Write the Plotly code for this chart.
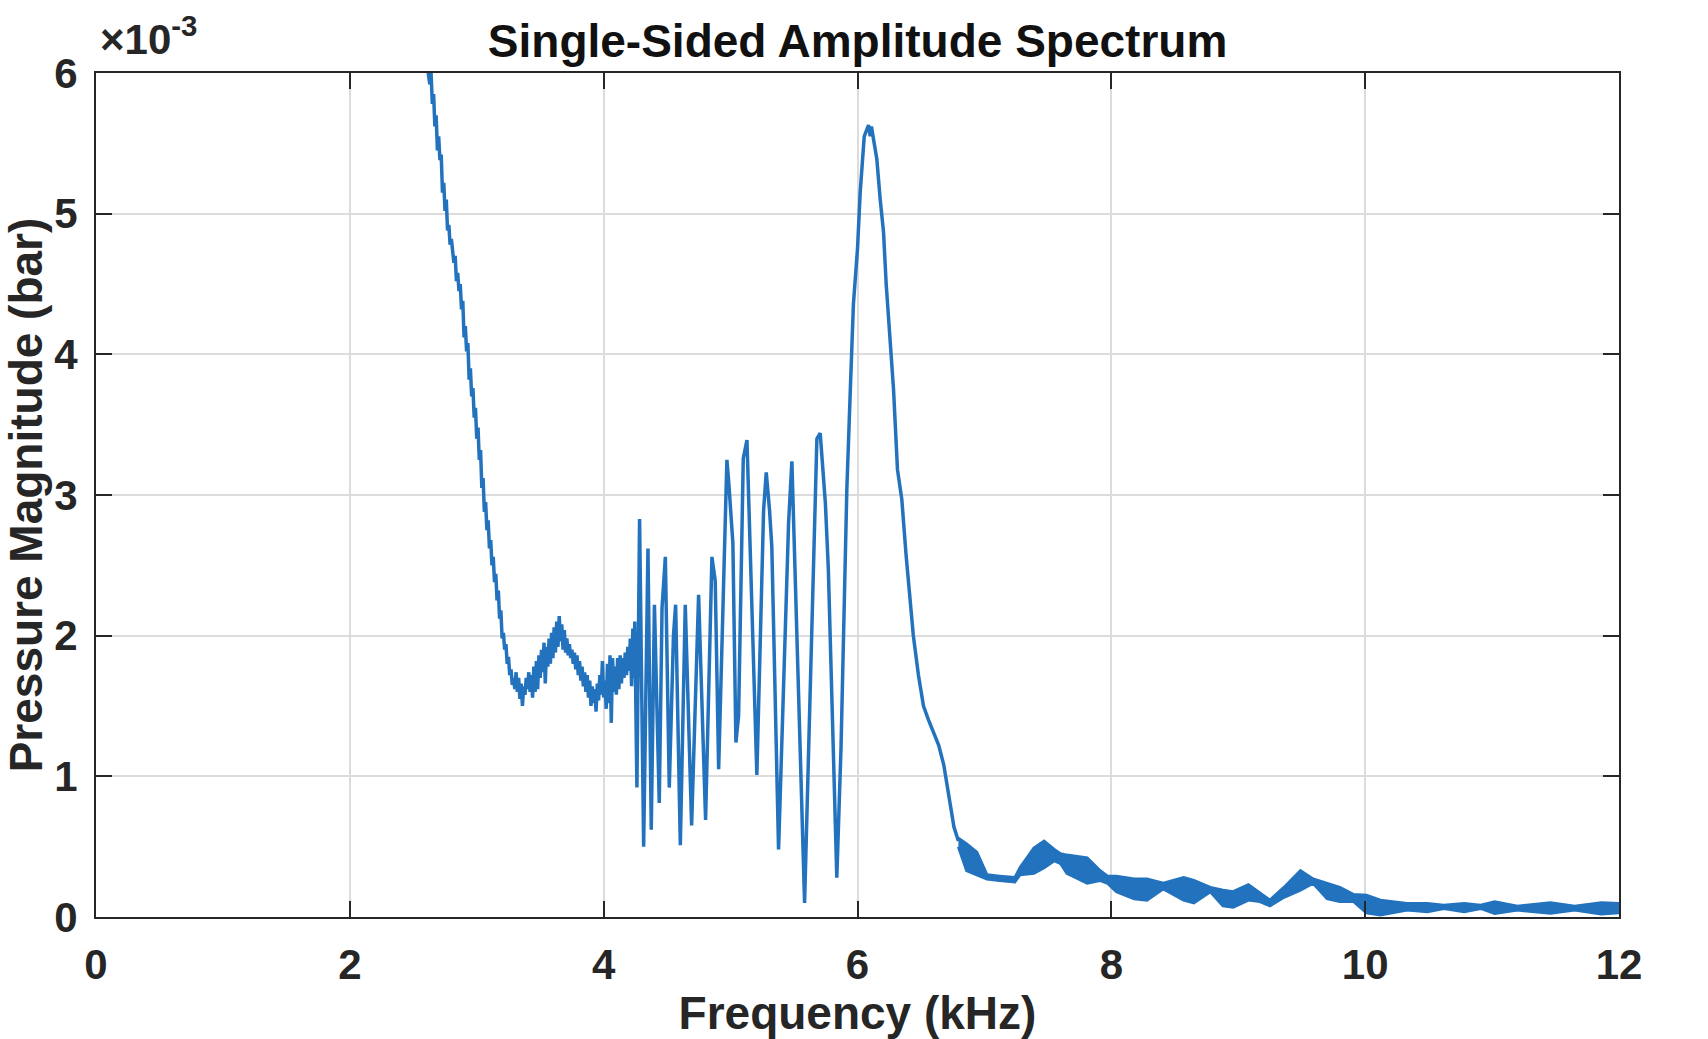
import plotly.graph_objects as go

# ---------------- data (pressure values in units of 1e-3 bar) ----------------
# Low-frequency roll-off and noisy plateau (kHz)
freq_low = [2.55, 2.62, 2.63, 2.64, 2.65, 2.66, 2.67, 2.68, 2.69, 2.70, 2.71, 2.72, 2.73, 2.74,
            2.75, 2.76, 2.77, 2.78, 2.79, 2.80, 2.82, 2.83, 2.84, 2.85, 2.86, 2.87, 2.88, 2.89,
            2.90, 2.91, 2.92, 2.93, 2.94, 2.95, 2.96, 2.97, 2.98, 2.99, 3.00, 3.01, 3.02, 3.03,
            3.04, 3.05, 3.06, 3.07, 3.08, 3.09, 3.10, 3.11, 3.12, 3.13, 3.14, 3.15, 3.16, 3.17,
            3.18, 3.19, 3.20, 3.21, 3.22, 3.23, 3.24, 3.25, 3.26, 3.27, 3.28, 3.29, 3.30, 3.31,
            3.32, 3.33, 3.34, 3.35, 3.36, 3.37, 3.38, 3.39, 3.40, 3.41, 3.42, 3.43, 3.44, 3.45,
            3.46, 3.47, 3.48, 3.49, 3.50, 3.51, 3.52, 3.53, 3.54, 3.55, 3.56, 3.57, 3.58, 3.59,
            3.60, 3.61, 3.62, 3.63, 3.64, 3.65, 3.66, 3.67, 3.68, 3.69, 3.70, 3.71, 3.72, 3.73,
            3.74, 3.75, 3.76, 3.77, 3.78, 3.79, 3.80, 3.81, 3.82, 3.83, 3.84, 3.85, 3.86, 3.87,
            3.88, 3.89, 3.90, 3.91, 3.92, 3.93, 3.94, 3.95, 3.96, 3.97, 3.98, 3.99, 4.00, 4.01,
            4.02, 4.03, 4.04, 4.05, 4.06, 4.07, 4.08, 4.09, 4.10, 4.11, 4.12, 4.13, 4.14, 4.15,
            4.16, 4.17, 4.18, 4.19, 4.20, 4.21, 4.22, 4.23, 4.24, 4.245]
mag_low = [6.45, 6.02, 5.92, 6.00, 5.78, 5.85, 5.62, 5.70, 5.45, 5.55, 5.38, 5.42, 5.15, 5.22,
           5.02, 5.10, 4.88, 4.92, 4.78, 4.82, 4.65, 4.70, 4.52, 4.58, 4.45, 4.50, 4.32, 4.38,
           4.12, 4.20, 4.02, 4.08, 3.82, 3.90, 3.70, 3.76, 3.55, 3.62, 3.40, 3.48, 3.25, 3.32,
           3.05, 3.12, 2.88, 2.95, 2.75, 2.82, 2.62, 2.68, 2.50, 2.56, 2.38, 2.44, 2.25, 2.32,
           2.12, 2.18, 1.98, 2.02, 1.90, 1.94, 1.80, 1.85, 1.72, 1.76, 1.65, 1.70, 1.62, 1.74,
           1.60, 1.70, 1.55, 1.66, 1.50, 1.64, 1.58, 1.70, 1.62, 1.74, 1.60, 1.72, 1.56, 1.78,
           1.60, 1.82, 1.62, 1.86, 1.70, 1.90, 1.74, 1.95, 1.66, 1.92, 1.78, 1.98, 1.80, 2.02,
           1.84, 2.06, 1.88, 2.10, 1.92, 2.14, 1.96, 2.08, 1.90, 2.04, 1.88, 1.98, 1.86, 1.94,
           1.84, 1.90, 1.80, 1.88, 1.76, 1.86, 1.72, 1.82, 1.68, 1.78, 1.64, 1.74, 1.60, 1.72,
           1.56, 1.68, 1.50, 1.64, 1.52, 1.62, 1.46, 1.66, 1.54, 1.72, 1.58, 1.82, 1.56, 1.68,
           1.48, 1.80, 1.52, 1.86, 1.38, 1.84, 1.60, 1.78, 1.58, 1.84, 1.62, 1.86, 1.66, 1.84,
           1.70, 1.88, 1.72, 1.92, 1.75, 1.98, 1.64, 2.05, 1.70, 2.10]

# Oscillating band and main resonance peak (kHz)
freq_mid = [4.262, 4.283, 4.300, 4.315, 4.349, 4.375, 4.400, 4.438, 4.460, 4.486, 4.517,
            4.550, 4.567, 4.604, 4.643, 4.693, 4.748, 4.803, 4.853, 4.879, 4.906, 4.971,
            4.984, 5.018, 5.042, 5.063, 5.100, 5.129, 5.207, 5.260, 5.281, 5.307, 5.325,
            5.378, 5.457, 5.483, 5.583, 5.680, 5.706, 5.747, 5.770, 5.837, 5.870, 5.916,
            5.947, 5.968, 6.000, 6.021, 6.053, 6.070, 6.087, 6.100, 6.110, 6.126, 6.152,
            6.179, 6.205, 6.226, 6.257, 6.284, 6.315, 6.349, 6.383, 6.410, 6.440, 6.480,
            6.520, 6.560, 6.600, 6.640, 6.680, 6.710, 6.730, 6.760, 6.795]
mag_mid = [0.92, 2.83, 1.60, 0.50, 2.62, 0.62, 2.22, 0.81, 2.20, 2.56, 0.92,
           2.00, 2.22, 0.51, 2.22, 0.65, 2.29, 0.69, 2.56, 2.39, 1.05, 3.25,
           3.11, 2.66, 1.24, 1.43, 3.26, 3.39, 1.01, 2.89, 3.16, 2.89, 2.63,
           0.48, 2.80, 3.24, 0.10, 3.40, 3.44, 2.94, 2.48, 0.28, 1.20, 3.04,
           3.84, 4.36, 4.75, 5.15, 5.55, 5.60, 5.63, 5.55, 5.62, 5.53, 5.39,
           5.10, 4.87, 4.50, 4.10, 3.75, 3.18, 2.97, 2.57, 2.30, 2.00, 1.72,
           1.50, 1.40, 1.31, 1.22, 1.08, 0.92, 0.78, 0.64, 0.54]

# High-frequency tail: the trace oscillates rapidly inside an envelope (kHz)
freq_tail = [6.795, 6.86, 6.94, 7.02, 7.12, 7.24, 7.28, 7.39, 7.47, 7.55, 7.60, 7.65,
             7.81, 7.91, 7.97, 8.04, 8.18, 8.28, 8.41, 8.57, 8.65, 8.78, 8.88, 8.96,
             9.08, 9.17, 9.25, 9.36, 9.49, 9.59, 9.70, 9.80, 9.91, 10.01, 10.12, 10.33,
             10.49, 10.62, 10.78, 10.91, 11.02, 11.20, 11.46, 11.65, 11.86, 12.00]
tail_upper = [0.56, 0.52, 0.46, 0.30, 0.29, 0.28, 0.35, 0.49, 0.54, 0.48, 0.45, 0.44,
              0.42, 0.33, 0.29, 0.29, 0.27, 0.27, 0.24, 0.28, 0.26, 0.21, 0.19, 0.18,
              0.23, 0.17, 0.12, 0.21, 0.33, 0.27, 0.24, 0.21, 0.16, 0.155, 0.12, 0.096,
              0.096, 0.084, 0.096, 0.084, 0.108, 0.077, 0.101, 0.077, 0.101, 0.096]
tail_lower = [0.50, 0.33, 0.30, 0.27, 0.26, 0.25, 0.30, 0.31, 0.35, 0.40, 0.38, 0.31,
              0.24, 0.26, 0.24, 0.18, 0.13, 0.12, 0.20, 0.12, 0.10, 0.18, 0.08, 0.07,
              0.12, 0.11, 0.08, 0.14, 0.19, 0.24, 0.13, 0.11, 0.11, 0.03, 0.014, 0.049,
              0.037, 0.061, 0.037, 0.061, 0.026, 0.049, 0.026, 0.049, 0.021, 0.030]

x_ticks = [0, 2, 4, 6, 8, 10, 12]
y_ticks = [0, 1, 2, 3, 4, 5, 6]

# ---------------- styling ----------------
LINE = "#2272BE"
TXT = "#262626"
FONT = "Liberation Sans"

fig = go.Figure()

fig.add_trace(go.Scatter(x=freq_low + freq_mid, y=mag_low + mag_mid, mode="lines",
                         line=dict(color=LINE, width=3.5), hoverinfo="x+y", showlegend=False))
fig.add_trace(go.Scatter(x=freq_tail, y=tail_lower, mode="lines",
                         line=dict(color=LINE, width=3), showlegend=False))
fig.add_trace(go.Scatter(x=freq_tail, y=tail_upper, mode="lines", fill="tonexty",
                         fillcolor=LINE, line=dict(color=LINE, width=3), showlegend=False))

axis_common = dict(
    showline=True, linecolor=TXT, linewidth=2, mirror="ticks",
    ticks="inside", ticklen=16, tickwidth=2, tickcolor=TXT,
    showgrid=True, gridcolor="#DCDCDC", gridwidth=2,
    zeroline=False,
    tickfont=dict(family=FONT, size=42, color=TXT),
)

fig.update_xaxes(range=[0, 12], tickvals=x_ticks, ticktext=[f"<b>{t}</b>" for t in x_ticks],
                 title=dict(text="<b>Frequency (kHz)</b>", font=dict(family=FONT, size=46, color=TXT),
                            standoff=6),
                 ticklabelstandoff=10, **axis_common)
fig.update_yaxes(range=[0, 6], tickvals=y_ticks, ticktext=[f"<b>{t}</b>" for t in y_ticks],
                 title=dict(text="<b>Pressure Magnitude (bar)</b>", font=dict(family=FONT, size=46, color=TXT),
                            standoff=8),
                 ticklabelstandoff=8, **axis_common)

fig.update_layout(
    width=1708, height=1039, autosize=False,
    margin=dict(l=96, r=89, t=73, b=112, pad=0),
    paper_bgcolor="white", plot_bgcolor="white",
    title=dict(text="<b>Single-Sided Amplitude Spectrum</b>", x=0.5021, xanchor="center",
               y=1 - 41 / 1039, yanchor="middle", yref="container",
               font=dict(family=FONT, size=46, color="#111111")),
    annotations=[dict(text="<b>×10<sup>-3</sup></b>", xref="paper", yref="paper", x=0, y=1,
                      xanchor="left", yanchor="bottom", xshift=2, yshift=8, showarrow=False,
                      font=dict(family=FONT, size=42, color=TXT))],
    showlegend=False,
)

fig.write_html("out.html")
